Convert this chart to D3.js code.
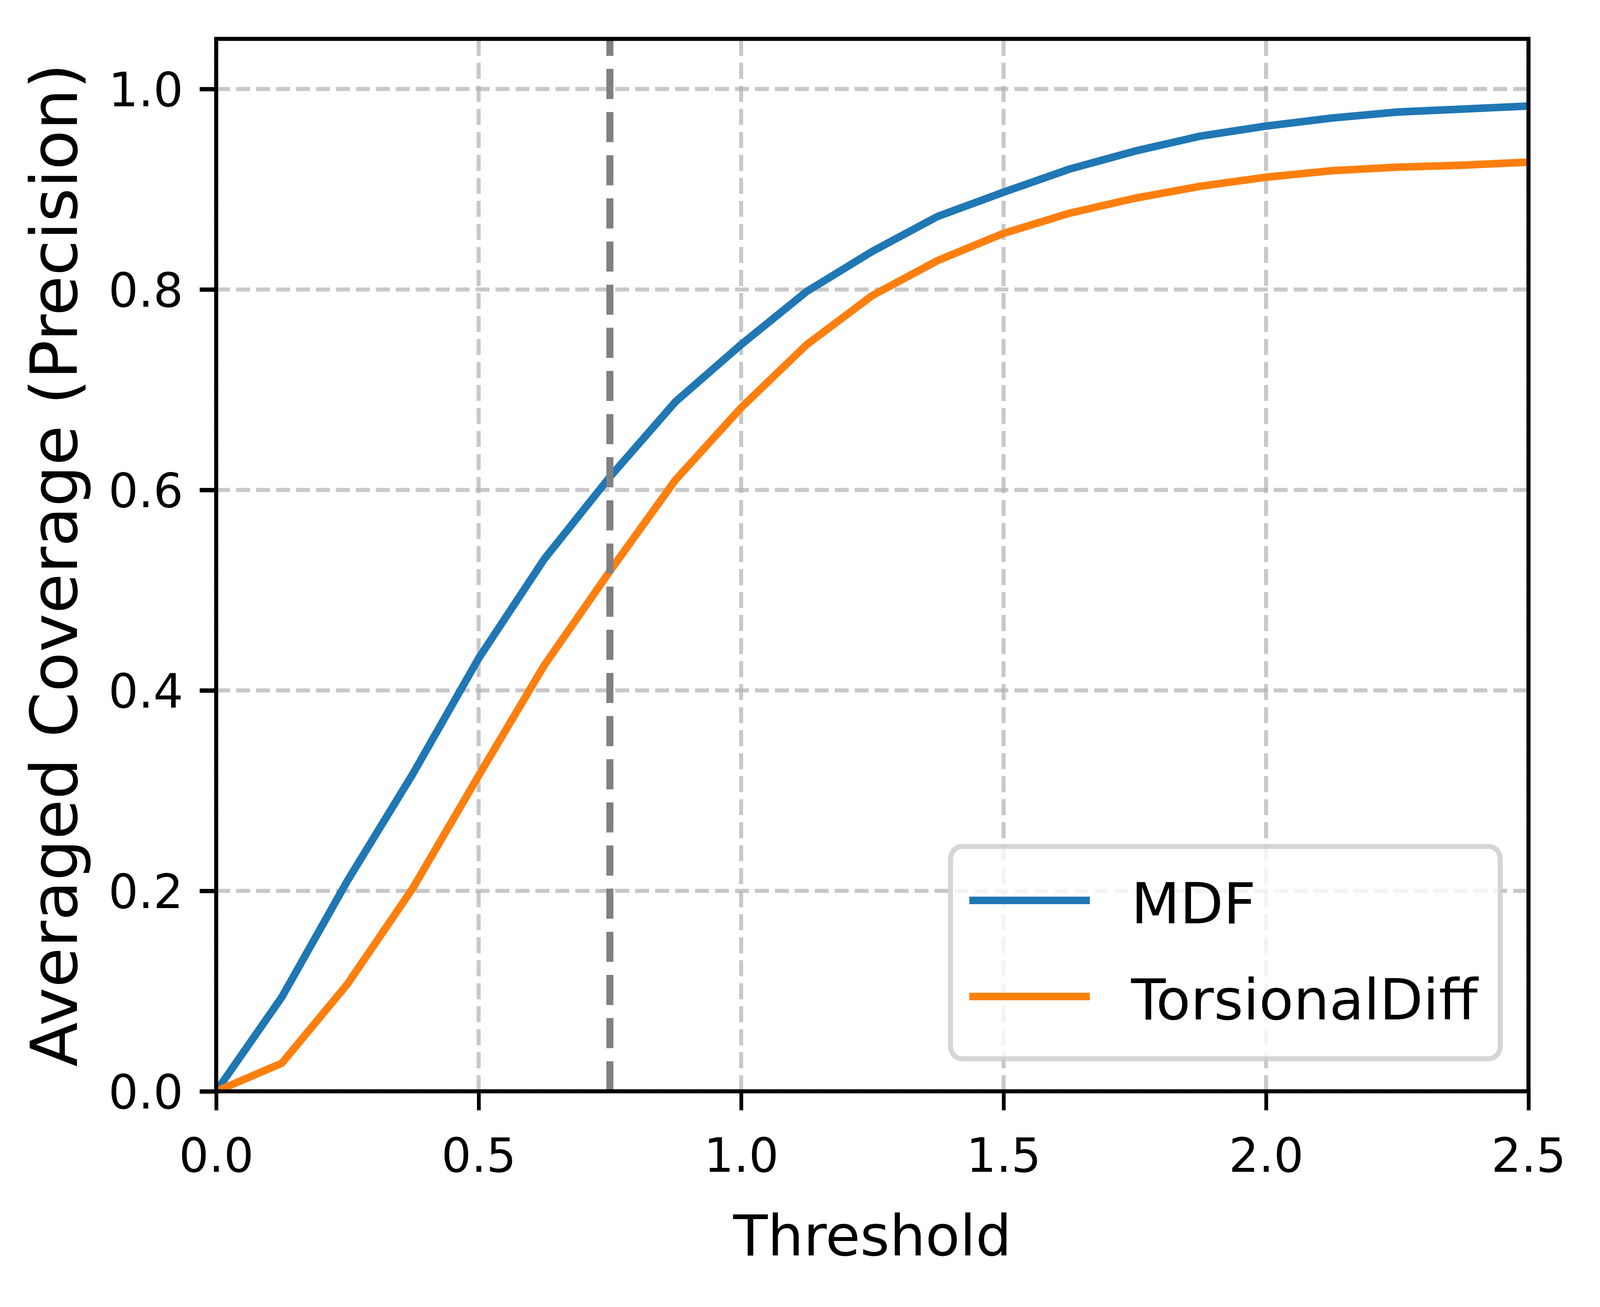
<!DOCTYPE html>
<html>
<head>
<meta charset="utf-8">
<script src="https://cdn.jsdelivr.net/npm/d3@7"></script>
<style>
  html, body { margin: 0; padding: 0; background: #fff; overflow: hidden; }
  #chart svg { display: block; }
  text { font-family: "DejaVu Sans", sans-serif; fill: #000; }
</style>
</head>
<body>
<div id="chart"></div>
<script>
// data
const thresholds = [0, 0.125, 0.25, 0.375, 0.5, 0.625, 0.75, 0.875, 1.0, 1.125, 1.25,
                    1.375, 1.5, 1.625, 1.75, 1.875, 2.0, 2.125, 2.25, 2.375, 2.5];
const mdfCoverage = [0, 0.094, 0.210, 0.317, 0.432, 0.531, 0.613, 0.688, 0.745, 0.798, 0.838,
                     0.873, 0.897, 0.920, 0.938, 0.953, 0.963, 0.971, 0.977, 0.980, 0.983];
const torsionalCoverage = [0, 0.028, 0.107, 0.203, 0.315, 0.425, 0.519, 0.610, 0.682, 0.745, 0.794,
                           0.829, 0.856, 0.876, 0.891, 0.903, 0.912, 0.9185, 0.922, 0.924, 0.927];
const seriesNames = ["MDF", "TorsionalDiff"];
const seriesColors = ["#1f77b4", "#ff7f0e"];
const xTicks = [0, 0.5, 1.0, 1.5, 2.0, 2.5];
const yTicks = [0, 0.2, 0.4, 0.6, 0.8, 1.0];
const markerThreshold = 0.75;

// layout was measured on a 4722x3345 figure; the window may be narrower,
// so horizontal and vertical measures are scaled separately
const W = 4722, H = 3345;
const vw = window.innerWidth || W, vh = window.innerHeight || H;
const sx = vw / W, sy = vh / H, s = Math.sqrt(sx * sy);
const pt = 1000 / 72;               // figure was saved at ~1000 dpi
const plot = { left: 638 * sx, right: 4511 * sx, top: 99.5 * sy, bottom: 2793 * sy };

const svg = d3.select("#chart").append("svg")
    .attr("width", vw)
    .attr("height", vh);

svg.append("rect").attr("width", vw).attr("height", vh).attr("fill", "#fff");

const x = d3.scaleLinear().domain([0, 2.5]).range([plot.left, plot.right]);
const y = d3.scaleLinear().domain([0, 1.05]).range([plot.bottom, plot.top]);

svg.append("defs").append("clipPath").attr("id", "plotclip")
    .append("rect")
    .attr("x", plot.left).attr("y", plot.top)
    .attr("width", plot.right - plot.left)
    .attr("height", plot.bottom - plot.top);

// grid
const gridLw = 0.8 * pt;
const grid = svg.append("g")
    .attr("stroke", "#b0b0b0")
    .attr("stroke-opacity", 0.7)
    .attr("stroke-width", gridLw * s)
    .attr("fill", "none");
grid.selectAll("line.vx").data(xTicks).enter().append("line")
    .attr("class", "vx")
    .attr("x1", d => x(d)).attr("x2", d => x(d))
    .attr("y1", plot.bottom).attr("y2", plot.top)
    .attr("stroke-dasharray", `${3.7 * gridLw * sy} ${1.6 * gridLw * sy}`);
grid.selectAll("line.hy").data(yTicks).enter().append("line")
    .attr("class", "hy")
    .attr("x1", plot.left).attr("x2", plot.right)
    .attr("y1", d => y(d)).attr("y2", d => y(d))
    .attr("stroke-dasharray", `${3.7 * gridLw * sx} ${1.6 * gridLw * sx}`);

// series
const series = [mdfCoverage, torsionalCoverage].map((vals, i) => ({
    name: seriesNames[i],
    color: seriesColors[i],
    points: thresholds.map((t, j) => [t, vals[j]])
}));

const line = d3.line().x(d => x(d[0])).y(d => y(d[1]));
const lineLw = 1.5 * pt;

svg.append("g").attr("clip-path", "url(#plotclip)")
    .selectAll("path").data(series).enter().append("path")
    .attr("d", d => line(d.points))
    .attr("fill", "none")
    .attr("stroke", d => d.color)
    .attr("stroke-width", lineLw * s)
    .attr("stroke-linejoin", "round")
    .attr("stroke-linecap", "square");

// vertical marker at the threshold
svg.append("line")
    .attr("x1", x(markerThreshold)).attr("x2", x(markerThreshold))
    .attr("y1", plot.bottom).attr("y2", plot.top)
    .attr("stroke", "#808080")
    .attr("stroke-width", lineLw * sx)
    .attr("stroke-dasharray", `${3.7 * lineLw * sy} ${1.6 * lineLw * sy}`);

// axes
const tickLen = 3.5 * pt;
const tickFs = 10 * pt * sx;
const fmt = d3.format(".1f");

const xAxis = svg.append("g")
    .attr("transform", `translate(0,${plot.bottom})`)
    .call(d3.axisBottom(x).tickValues(xTicks).tickFormat(fmt)
        .tickSize(tickLen * sy).tickPadding(tickLen * sy).tickSizeOuter(0));
const yAxis = svg.append("g")
    .attr("transform", `translate(${plot.left},0)`)
    .call(d3.axisLeft(y).tickValues(yTicks).tickFormat(fmt)
        .tickSize(tickLen * sx).tickPadding(tickLen * sx).tickSizeOuter(0));

[xAxis, yAxis].forEach(g => {
    g.select(".domain").remove();
    g.attr("font-family", null).attr("font-size", null);
    g.selectAll(".tick text").attr("font-size", tickFs).attr("fill", "#000");
});
xAxis.selectAll(".tick line").attr("stroke", "#000").attr("stroke-width", 0.8 * pt * sx);
yAxis.selectAll(".tick line").attr("stroke", "#000").attr("stroke-width", 0.8 * pt * sy);
xAxis.selectAll(".tick text").attr("y", 206 * sy).attr("dy", 0);
yAxis.selectAll(".tick text").attr("dy", 0.364 * tickFs);

// frame
svg.append("rect")
    .attr("x", plot.left).attr("y", plot.top)
    .attr("width", plot.right - plot.left)
    .attr("height", plot.bottom - plot.top)
    .attr("fill", "none")
    .attr("stroke", "#000")
    .attr("stroke-width", 0.8 * pt * s);

// axis labels
const labelFs = 12 * pt;
svg.append("text")
    .attr("x", (plot.left + plot.right) / 2)
    .attr("y", 3213 * sy)
    .attr("text-anchor", "middle")
    .attr("font-size", labelFs * sx)
    .text("Threshold");

svg.append("text")
    .attr("transform", `translate(${227 * sx},${(plot.top + plot.bottom) / 2}) rotate(-90)`)
    .attr("text-anchor", "middle")
    .attr("font-size", labelFs * sy)
    .text("Averaged Coverage (Precision)");

// legend, lower right
const fsX = 12 * pt * sx, fsY = 12 * pt * sy;
const legend = svg.append("g");
const legendBox = legend.append("rect");
const items = legend.selectAll("g.item").data(series).enter().append("g").attr("class", "item");

items.append("line")
    .attr("stroke", d => d.color)
    .attr("stroke-width", lineLw * s)
    .attr("stroke-linecap", "square");
const labels = items.append("text")
    .attr("font-size", fsX)
    .text(d => d.name);

const textW = d3.max(labels.nodes(), n => n.getComputedTextLength());
const boxW = 0.4 * fsX * 2 + 2.0 * fsX + 0.8 * fsX + textW;
const boxR = plot.right - 0.5 * fsX;
const boxB = plot.bottom - 0.5 * fsY;
const boxT = boxB - 3.26 * fsY;
const boxL = boxR - boxW;

legendBox
    .attr("x", boxL).attr("y", boxT)
    .attr("width", boxW).attr("height", boxB - boxT)
    .attr("rx", 0.2 * fsX).attr("ry", 0.2 * fsY)
    .attr("fill", "#fff").attr("fill-opacity", 0.8)
    .attr("stroke", "#cccccc").attr("stroke-opacity", 0.8)
    .attr("stroke-width", 1.0 * pt * s);

const baseline = i => boxB - 0.606 * fsY - (series.length - 1 - i) * 1.476 * fsY;
items.select("line")
    .attr("x1", boxL + 0.4 * fsX).attr("x2", boxL + 2.4 * fsX)
    .attr("y1", (d, i) => baseline(i) - 0.35 * fsY)
    .attr("y2", (d, i) => baseline(i) - 0.35 * fsY);
labels
    .attr("x", boxL + 3.2 * fsX)
    .attr("y", (d, i) => baseline(i));
</script>
</body>
</html>
